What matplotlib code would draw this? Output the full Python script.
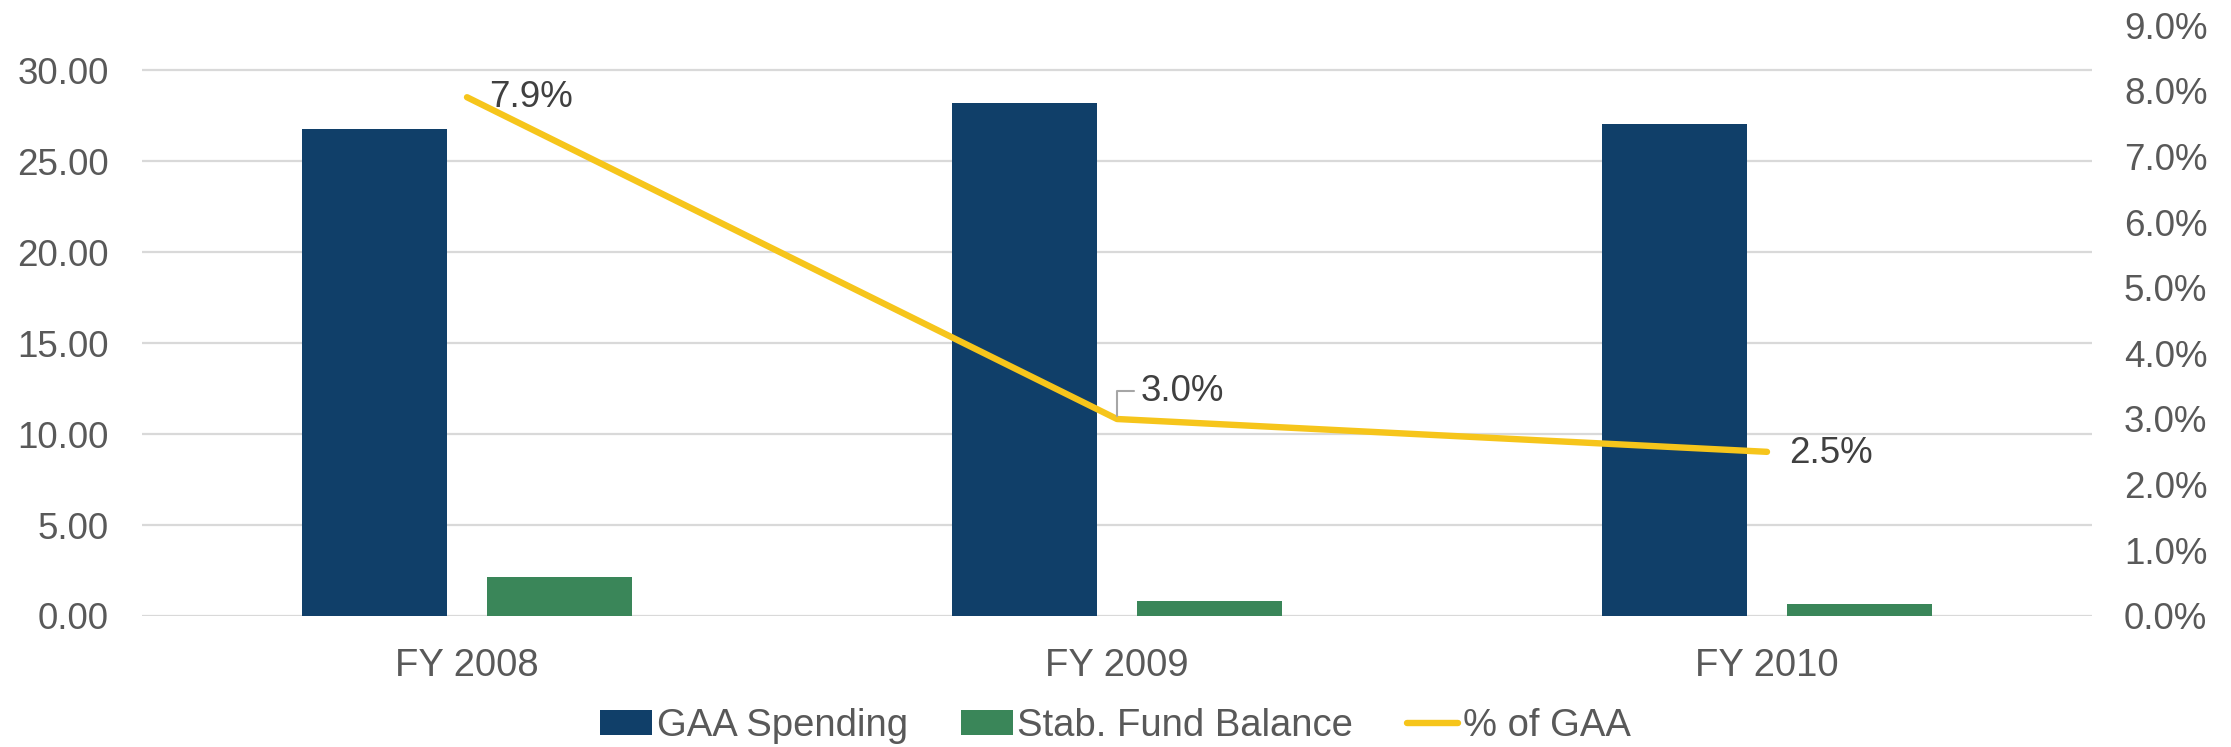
import matplotlib
matplotlib.use("Agg")
import matplotlib.pyplot as plt
import numpy as np
from matplotlib.ticker import FuncFormatter

plt.rcParams['font.family'] = ['Liberation Sans', 'DejaVu Sans']

# Data (billions and share of GAA)
categories = ["FY 2008", "FY 2009", "FY 2010"]
gaa_spending = [26.8, 28.2, 27.05]
stab_fund = [2.12, 0.85, 0.68]
pct_of_gaa = [0.079, 0.030, 0.025]

BLUE = "#103F69"
GREEN = "#3A8659"
YELLOW = "#F6C51B"
GRID = "#D9D9D9"
TICK_TEXT = "#595959"
LABEL_TEXT = "#404040"

fig = plt.figure(figsize=(22.31, 7.47), dpi=100)
ax = fig.add_axes([0.06365, 0.17537, 0.87404, 0.79116])
ax2 = ax.twinx()

x = np.arange(len(categories))
bar_w = 0.223
offset = 0.1425

ax.bar(x - offset, gaa_spending, width=bar_w, color=BLUE, label="GAA Spending", zorder=2)
ax.bar(x + offset, stab_fund, width=bar_w, color=GREEN, label="Stab. Fund Balance", zorder=2)

ax.set_xlim(-0.5, 2.5)
ax.set_ylim(0, 32.5)
ax.set_yticks(np.arange(0, 31, 5))
ax.yaxis.set_major_formatter(FuncFormatter(lambda v, p: f"{v:.2f}"))
ax.grid(axis="y", color=GRID, linewidth=1.6, zorder=0)
ax.set_axisbelow(True)
ax.set_xticks(x)
ax.set_xticklabels(categories)

ax2.plot(x, pct_of_gaa, color=YELLOW, linewidth=4.6, solid_capstyle="round",
         label="% of GAA", zorder=3)
ax2.set_ylim(0, 0.09)
ax2.set_yticks(np.arange(0, 0.0901, 0.01))
ax2.yaxis.set_major_formatter(FuncFormatter(lambda v, p: f"{v*100:.1f}%"))

for a in (ax, ax2):
    for s in a.spines.values():
        s.set_visible(False)
    a.tick_params(axis="both", length=0, labelsize=26.5, labelcolor=TICK_TEXT)
ax.tick_params(axis="x", labelsize=27.5)
ax.tick_params(axis="y", pad=24)
ax.tick_params(axis="x", pad=23)
ax2.tick_params(axis="y", pad=23)

# Data labels for the percentage line
offsets = [(16, 0), (17, 20), (16, -1)]
for i, (xi, v) in enumerate(zip(x, pct_of_gaa)):
    kw = {}
    if i == 1:
        kw["arrowprops"] = dict(arrowstyle="-", color="#A6A6A6", linewidth=1.5,
                                connectionstyle="angle,angleA=0,angleB=90,rad=0",
                                shrinkA=3, shrinkB=2, relpos=(0, 0.5))
    ax2.annotate(f"{v*100:.1f}%", xy=(xi, v), xytext=offsets[i],
                 textcoords="offset points", ha="left", va="center",
                 fontsize=26.5, color=LABEL_TEXT, zorder=4, **kw)

handles1, labels1 = ax.get_legend_handles_labels()
handles2, labels2 = ax2.get_legend_handles_labels()
leg = fig.legend(handles1 + handles2, labels1 + labels2, loc="center",
                 bbox_to_anchor=(0.5, 0.028), ncol=3, frameon=False,
                 fontsize=27.5, handlelength=1.35, handleheight=0.6,
                 handletextpad=0.12, columnspacing=1.4)
for t in leg.get_texts():
    t.set_color(TICK_TEXT)

fig.savefig("out.png", dpi=100, facecolor="white")
